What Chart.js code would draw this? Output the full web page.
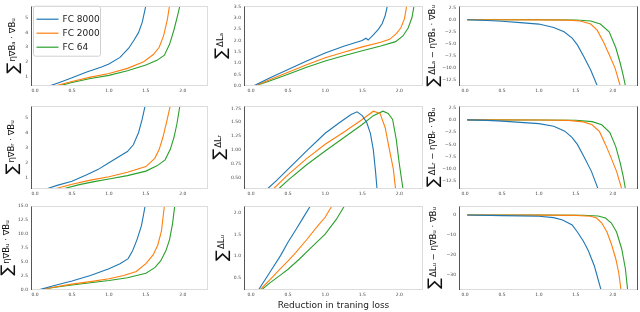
<!DOCTYPE html>
<html>
<head>
<meta charset="utf-8">
<script src="https://cdn.jsdelivr.net/npm/chart.js"></script>
<style>
  body { margin: 0; background: #fff; }
  #wrap { position: relative; width: 640px; height: 312px; overflow: hidden; }
  canvas { position: absolute; }
</style>
</head>
<body>
<div id="wrap"></div>
<script>
var seriesNames = ["FC 8000", "FC 2000", "FC 64"];
var seriesColors = ["#1f77b4", "#ff7f0e", "#2ca02c"];
var xTicks = [0, 0.5, 1, 1.5, 2];

// column 1: sum eta grad B_x . grad B_u
var r1c1_8000 = [[0.2,0.35],[0.35,0.62],[0.5,0.9],[0.7,1.3],[0.9,1.65],[1.0,1.85],[1.15,2.3],[1.27,2.95],[1.34,3.5],[1.4,4.0],[1.45,4.7],[1.5,5.85]];
var r1c1_2000 = [[0.28,0.35],[0.5,0.65],[0.75,0.95],[1.0,1.2],[1.25,1.55],[1.47,2.0],[1.6,2.5],[1.68,3.0],[1.74,3.8],[1.79,4.9],[1.82,5.85]];
var r1c1_64 = [[0.33,0.35],[0.5,0.58],[0.75,0.85],[1.0,1.07],[1.25,1.38],[1.5,1.78],[1.65,2.1],[1.75,2.45],[1.82,3.2],[1.88,4.2],[1.93,5.2],[1.96,5.85]];

var r2c1_8000 = [[0.15,0.26],[0.3,0.5],[0.5,0.78],[0.7,1.2],[0.85,1.55],[1.0,2.0],[1.15,2.45],[1.25,2.75],[1.33,3.2],[1.4,4.0],[1.45,4.9],[1.49,5.8]];
var r2c1_2000 = [[0.26,0.26],[0.5,0.58],[0.75,0.85],[1.0,1.08],[1.25,1.38],[1.5,1.75],[1.62,2.3],[1.68,2.9],[1.73,3.7],[1.78,4.7],[1.83,5.8]];
var r2c1_64 = [[0.37,0.26],[0.6,0.55],[0.8,0.75],[1.0,0.92],[1.25,1.15],[1.5,1.45],[1.65,1.8],[1.76,2.2],[1.83,2.9],[1.88,3.7],[1.92,4.6],[1.96,5.8]];

var r3c1_8000 = [[0.04,0],[0.25,0.75],[0.5,1.6],[0.75,2.6],[1.0,3.8],[1.15,4.7],[1.26,5.6],[1.32,7.0],[1.38,9.0],[1.44,11.5],[1.49,15]];
var r3c1_2000 = [[0.05,0],[0.25,0.5],[0.5,1.05],[0.75,1.5],[1.0,2.0],[1.2,2.6],[1.37,3.3],[1.5,4.7],[1.6,6.3],[1.66,8.0],[1.71,10.5],[1.75,15]];
var r3c1_64 = [[0.05,0],[0.25,0.45],[0.5,0.9],[0.75,1.3],[1.0,1.7],[1.25,2.2],[1.5,3.0],[1.62,4.0],[1.7,5.2],[1.77,7.0],[1.82,9.0],[1.86,11.8],[1.89,15]];

// column 2: sum delta L_x
var r1c2_8000 = [[0.03,0],[0.25,0.35],[0.5,0.72],[0.75,1.1],[1.0,1.45],[1.25,1.75],[1.5,2.0],[1.55,2.1],[1.58,2.02],[1.65,2.25],[1.72,2.5],[1.77,2.75],[1.81,3.1],[1.84,3.53]];
var r1c2_2000 = [[0.05,0],[0.25,0.27],[0.5,0.6],[0.75,0.93],[1.0,1.24],[1.25,1.48],[1.5,1.72],[1.75,1.92],[1.87,2.05],[1.96,2.3],[2.02,2.55],[2.07,2.95],[2.1,3.53]];
var r1c2_64 = [[0.05,0],[0.25,0.22],[0.5,0.52],[0.75,0.82],[1.0,1.1],[1.25,1.33],[1.5,1.55],[1.75,1.76],[1.95,1.95],[2.05,2.2],[2.12,2.55],[2.17,3.0],[2.2,3.53]];

var r2c2_8000 = [[0.22,0.29],[0.35,0.45],[0.5,0.65],[0.75,0.98],[1.0,1.3],[1.2,1.5],[1.35,1.64],[1.43,1.69],[1.5,1.62],[1.56,1.5],[1.61,1.3],[1.65,1.0],[1.68,0.6],[1.7,0.29]];
var r2c2_2000 = [[0.3,0.29],[0.5,0.55],[0.75,0.84],[1.0,1.1],[1.25,1.32],[1.5,1.55],[1.65,1.7],[1.74,1.66],[1.81,1.4],[1.87,0.98],[1.92,0.65],[1.95,0.29]];
var r2c2_64 = [[0.37,0.29],[0.5,0.45],[0.75,0.73],[1.0,0.98],[1.25,1.22],[1.5,1.46],[1.65,1.62],[1.78,1.7],[1.85,1.66],[1.91,1.55],[1.96,1.18],[2.0,0.75],[2.05,0.29]];

var r3c2_8000 = [[0.1,0.22],[0.25,0.62],[0.4,1.02],[0.5,1.33],[0.6,1.6],[0.7,1.88],[0.8,2.16]];
var r3c2_2000 = [[0.12,0.22],[0.25,0.45],[0.4,0.72],[0.5,0.89],[0.6,1.08],[0.75,1.38],[0.9,1.7],[1.0,1.9],[1.09,2.16]];
var r3c2_64 = [[0.14,0.22],[0.25,0.38],[0.4,0.57],[0.5,0.7],[0.65,0.93],[0.8,1.18],[1.0,1.51],[1.15,1.85],[1.26,2.16]];

// column 3: sum delta L_x - eta grad B_x . grad B_u
var r1c3_8000 = [[0.03,0],[0.3,-0.15],[0.5,-0.3],[0.75,-0.6],[1.0,-0.9],[1.2,-1.6],[1.34,-2.5],[1.45,-3.8],[1.52,-5.2],[1.61,-7.7],[1.7,-10.4],[1.79,-13.7]];
var r1c3_2000 = [[0.03,0],[1.0,-0.02],[1.4,-0.08],[1.56,-0.25],[1.7,-0.9],[1.79,-2.2],[1.88,-4.8],[1.95,-7.2],[2.03,-10.0],[2.1,-13.7]];
var r1c3_64 = [[0.03,0],[1.0,-0.01],[1.5,-0.06],[1.7,-0.25],[1.83,-0.9],[1.95,-2.5],[2.04,-5.8],[2.1,-9.0],[2.14,-11.5],[2.17,-13.7]];

var r2c3_8000 = [[0.03,0],[0.3,-0.1],[0.5,-0.25],[0.75,-0.5],[1.0,-0.75],[1.2,-1.3],[1.35,-2.3],[1.45,-3.6],[1.52,-5.0],[1.62,-7.8],[1.71,-10.5],[1.8,-14.1]];
var r2c3_2000 = [[0.03,0],[1.0,-0.02],[1.4,-0.1],[1.6,-0.4],[1.72,-1.0],[1.82,-2.4],[1.9,-5.0],[1.97,-7.5],[2.05,-10.5],[2.12,-14.1]];
var r2c3_64 = [[0.03,0],[1.0,-0.01],[1.5,-0.08],[1.72,-0.35],[1.85,-1.0],[1.96,-2.6],[2.04,-5.5],[2.1,-8.8],[2.14,-11.5],[2.17,-14.1]];

var r3c3_8000 = [[0.03,0],[0.5,-0.3],[1.0,-0.6],[1.2,-1.3],[1.32,-2.5],[1.45,-5.0],[1.52,-8.5],[1.6,-13.0],[1.67,-18.0],[1.75,-25.5],[1.84,-37.5]];
var r3c3_2000 = [[0.03,0],[1.0,-0.05],[1.5,-0.2],[1.7,-0.6],[1.78,-1.5],[1.85,-4.0],[1.92,-8.5],[1.98,-14.5],[2.04,-22.0],[2.08,-29.0],[2.11,-37.5]];
var r3c3_64 = [[0.03,0],[1.0,-0.02],[1.6,-0.1],[1.8,-0.5],[1.9,-1.5],[1.98,-4.0],[2.05,-8.5],[2.12,-17.0],[2.17,-27.0],[2.2,-37.5]];

// y tick labels
var ticksGradAB = [1, 2, 3, 4, 5];
var ticksGradUU = [0, 2.5, 5, 7.5, 10, 12.5, 15];
var ticksLossA = [0, 0.5, 1, 1.5, 2, 2.5, 3, 3.5];
var ticksLossR = [0.5, 0.75, 1, 1.25, 1.5, 1.75];
var ticksLossU = [0.5, 1, 1.5, 2];
var ticksDiffAR = [2.5, 0, -2.5, -5, -7.5, -10, -12.5];
var ticksDiffU = [0, -10, -20, -30];

// grid geometry (canvas placement and plot box)
var cols = [
  { left: 0, width: 210, axisW: 31, xmin: -0.054, xmax: 2.34 },
  { left: 210, width: 215, axisW: 34, xmin: -0.095, xmax: 2.32 },
  { left: 425, width: 215, axisW: 34, xmin: -0.081, xmax: 2.34 }
];
var rows = [
  { top: 0, height: 100, padTop: 2, axisH: 14 },
  { top: 100, height: 100, padTop: 4, axisH: 11 },
  { top: 200, height: 112, padTop: 6, axisH: 22 }
];

var panels = [
  { r: 0, c: 0, data: [r1c1_8000, r1c1_2000, r1c1_64], ticks: ticksGradAB, dec: 0, ymin: 0.34, ymax: 5.85, title: "η∇Bₐ · ∇Bᵤ", tx: 14, legend: true },
  { r: 0, c: 1, data: [r1c2_8000, r1c2_2000, r1c2_64], ticks: ticksLossA, dec: 1, ymin: 0, ymax: 3.53, title: "ΔLₐ", tx: 12 },
  { r: 0, c: 2, data: [r1c3_8000, r1c3_2000, r1c3_64], ticks: ticksDiffAR, dec: 1, ymin: -13.7, ymax: 2.9, title: "ΔLₐ − η∇Bₐ · ∇Bᵤ", tx: 9 },
  { r: 1, c: 0, data: [r2c1_8000, r2c1_2000, r2c1_64], ticks: ticksGradAB, dec: 0, ymin: 0.26, ymax: 5.8, title: "η∇Bᵣ · ∇Bᵤ", tx: 13 },
  { r: 1, c: 1, data: [r2c2_8000, r2c2_2000, r2c2_64], ticks: ticksLossR, dec: 2, ymin: 0.29, ymax: 1.8, title: "ΔLᵣ", tx: 10 },
  { r: 1, c: 2, data: [r2c3_8000, r2c3_2000, r2c3_64], ticks: ticksDiffAR, dec: 1, ymin: -14.1, ymax: 2.9, title: "ΔLᵣ − η∇Bᵣ · ∇Bᵤ", tx: 9 },
  { r: 2, c: 0, data: [r3c1_8000, r3c1_2000, r3c1_64], ticks: ticksGradUU, dec: 1, ymin: 0, ymax: 15, title: "η∇Bᵤ · ∇Bᵤ", tx: 8 },
  { r: 2, c: 1, data: [r3c2_8000, r3c2_2000, r3c2_64], ticks: ticksLossU, dec: 1, ymin: 0.22, ymax: 2.16, title: "ΔLᵤ", tx: 13, xTitle: "Reduction in traning loss" },
  { r: 2, c: 2, data: [r3c3_8000, r3c3_2000, r3c3_64], ticks: ticksDiffU, dec: 0, ymin: -37.5, ymax: 4.5, title: "ΔLᵤ − η∇Bᵤ · ∇Bᵤ", tx: 10 }
];

var FONT = "DejaVu Sans";

function fmt(v, d) {
  return Number(v).toFixed(d).replace("-", "\u2212");
}

// frame, rotated y title with a big sum sign, and the legend box
var decor = {
  id: "decor",
  afterDatasetsDraw: function (chart, args, o) {
    var ctx = chart.ctx, a = chart.chartArea;
    var l = Math.round(a.left) + 0.5, t = Math.round(a.top) + 0.5;
    var r = Math.round(a.right) - 0.5, b = Math.round(a.bottom) - 0.5;
    ctx.save();
    ctx.lineWidth = 1;
    ctx.strokeStyle = "#dcdcdc";
    ctx.strokeRect(l, t, r - l, b - t);
    ctx.strokeStyle = "#555";
    ctx.beginPath();
    ctx.moveTo(l, t); ctx.lineTo(l, b + 0.5);
    if (o.rightSpine) { ctx.moveTo(r, t); ctx.lineTo(r, b + 0.5); }
    ctx.stroke();

    // y title
    ctx.translate(o.tx, (a.top + a.bottom) / 2);
    ctx.rotate(-Math.PI / 2);
    ctx.fillStyle = "#111";
    ctx.textBaseline = "middle";
    ctx.font = "16px " + FONT;
    var w1 = ctx.measureText("∑").width;
    ctx.font = "8.5px " + FONT;
    var w2 = ctx.measureText(o.title).width;
    var x0 = -(w1 + 1 + w2) / 2;
    ctx.font = "16px " + FONT;
    ctx.fillText("∑", x0, 0);
    ctx.font = "8.5px " + FONT;
    ctx.fillText(o.title, x0 + w1 + 1, -1);
    ctx.restore();

    if (o.legend) {
      ctx.save();
      var bx = a.left + 2.5, by = a.top + 0.5, bw = 67, bh = 50;
      ctx.fillStyle = "rgba(255,255,255,0.85)";
      ctx.strokeStyle = "#d0d0d0";
      ctx.lineWidth = 1;
      ctx.beginPath();
      ctx.roundRect(bx, by, bw, bh, 2);
      ctx.fill();
      ctx.stroke();
      ctx.font = "9px " + FONT;
      ctx.textBaseline = "middle";
      chart.data.datasets.forEach(function (ds, i) {
        var yy = by + 13 + i * 14;
        ctx.strokeStyle = ds.borderColor;
        ctx.lineWidth = 1.2;
        ctx.beginPath();
        ctx.moveTo(bx + 3, yy);
        ctx.lineTo(bx + 25, yy);
        ctx.stroke();
        ctx.fillStyle = "#222";
        ctx.fillText(ds.label, bx + 29, yy);
      });
      ctx.restore();
    }
  }
};

var wrap = document.getElementById("wrap");

panels.forEach(function (p) {
  var col = cols[p.c], row = rows[p.r];
  var cv = document.createElement("canvas");
  cv.width = col.width;
  cv.height = row.height;
  cv.style.left = col.left + "px";
  cv.style.top = row.top + "px";
  wrap.appendChild(cv);

  new Chart(cv, {
    type: "line",
    data: {
      datasets: seriesNames.map(function (name, i) {
        return {
          label: name,
          data: p.data[i].map(function (pt) { return { x: pt[0], y: pt[1] }; }),
          borderColor: seriesColors[i],
          borderWidth: 1.1,
          pointRadius: 0,
          tension: 0,
          fill: false
        };
      })
    },
    options: {
      responsive: false,
      animation: false,
      layout: { padding: { top: row.padTop, right: 2, left: 0, bottom: 0 } },
      plugins: {
        legend: { display: false },
        tooltip: { enabled: false },
        decor: { title: p.title, tx: p.tx, legend: !!p.legend, rightSpine: p.c === 2 }
      },
      scales: {
        x: {
          type: "linear",
          min: col.xmin,
          max: col.xmax,
          afterBuildTicks: function (s) { s.ticks = xTicks.map(function (v) { return { value: v }; }); },
          afterFit: function (s) { s.height = row.axisH; },
          grid: { display: false, drawTicks: false },
          border: { display: false },
          ticks: {
            autoSkip: false, maxRotation: 0, padding: 2,
            font: { size: 4.5, family: FONT }, color: "#444",
            callback: function (v) { return fmt(v, 1); }
          },
          title: {
            display: !!p.xTitle,
            text: p.xTitle || "",
            font: { size: 9, family: FONT },
            color: "#222",
            padding: { top: 0, bottom: 1 }
          }
        },
        y: {
          type: "linear",
          min: p.ymin,
          max: p.ymax,
          afterBuildTicks: function (s) { s.ticks = p.ticks.map(function (v) { return { value: v }; }); },
          afterFit: function (s) { s.width = col.axisW; },
          grid: { display: false, drawTicks: false },
          border: { display: false },
          ticks: {
            autoSkip: false, padding: 3,
            font: { size: 4.5, family: FONT }, color: "#444",
            callback: function (v) { return fmt(v, p.dec); }
          }
        }
      }
    },
    plugins: [decor]
  });
});
</script>
</body>
</html>
